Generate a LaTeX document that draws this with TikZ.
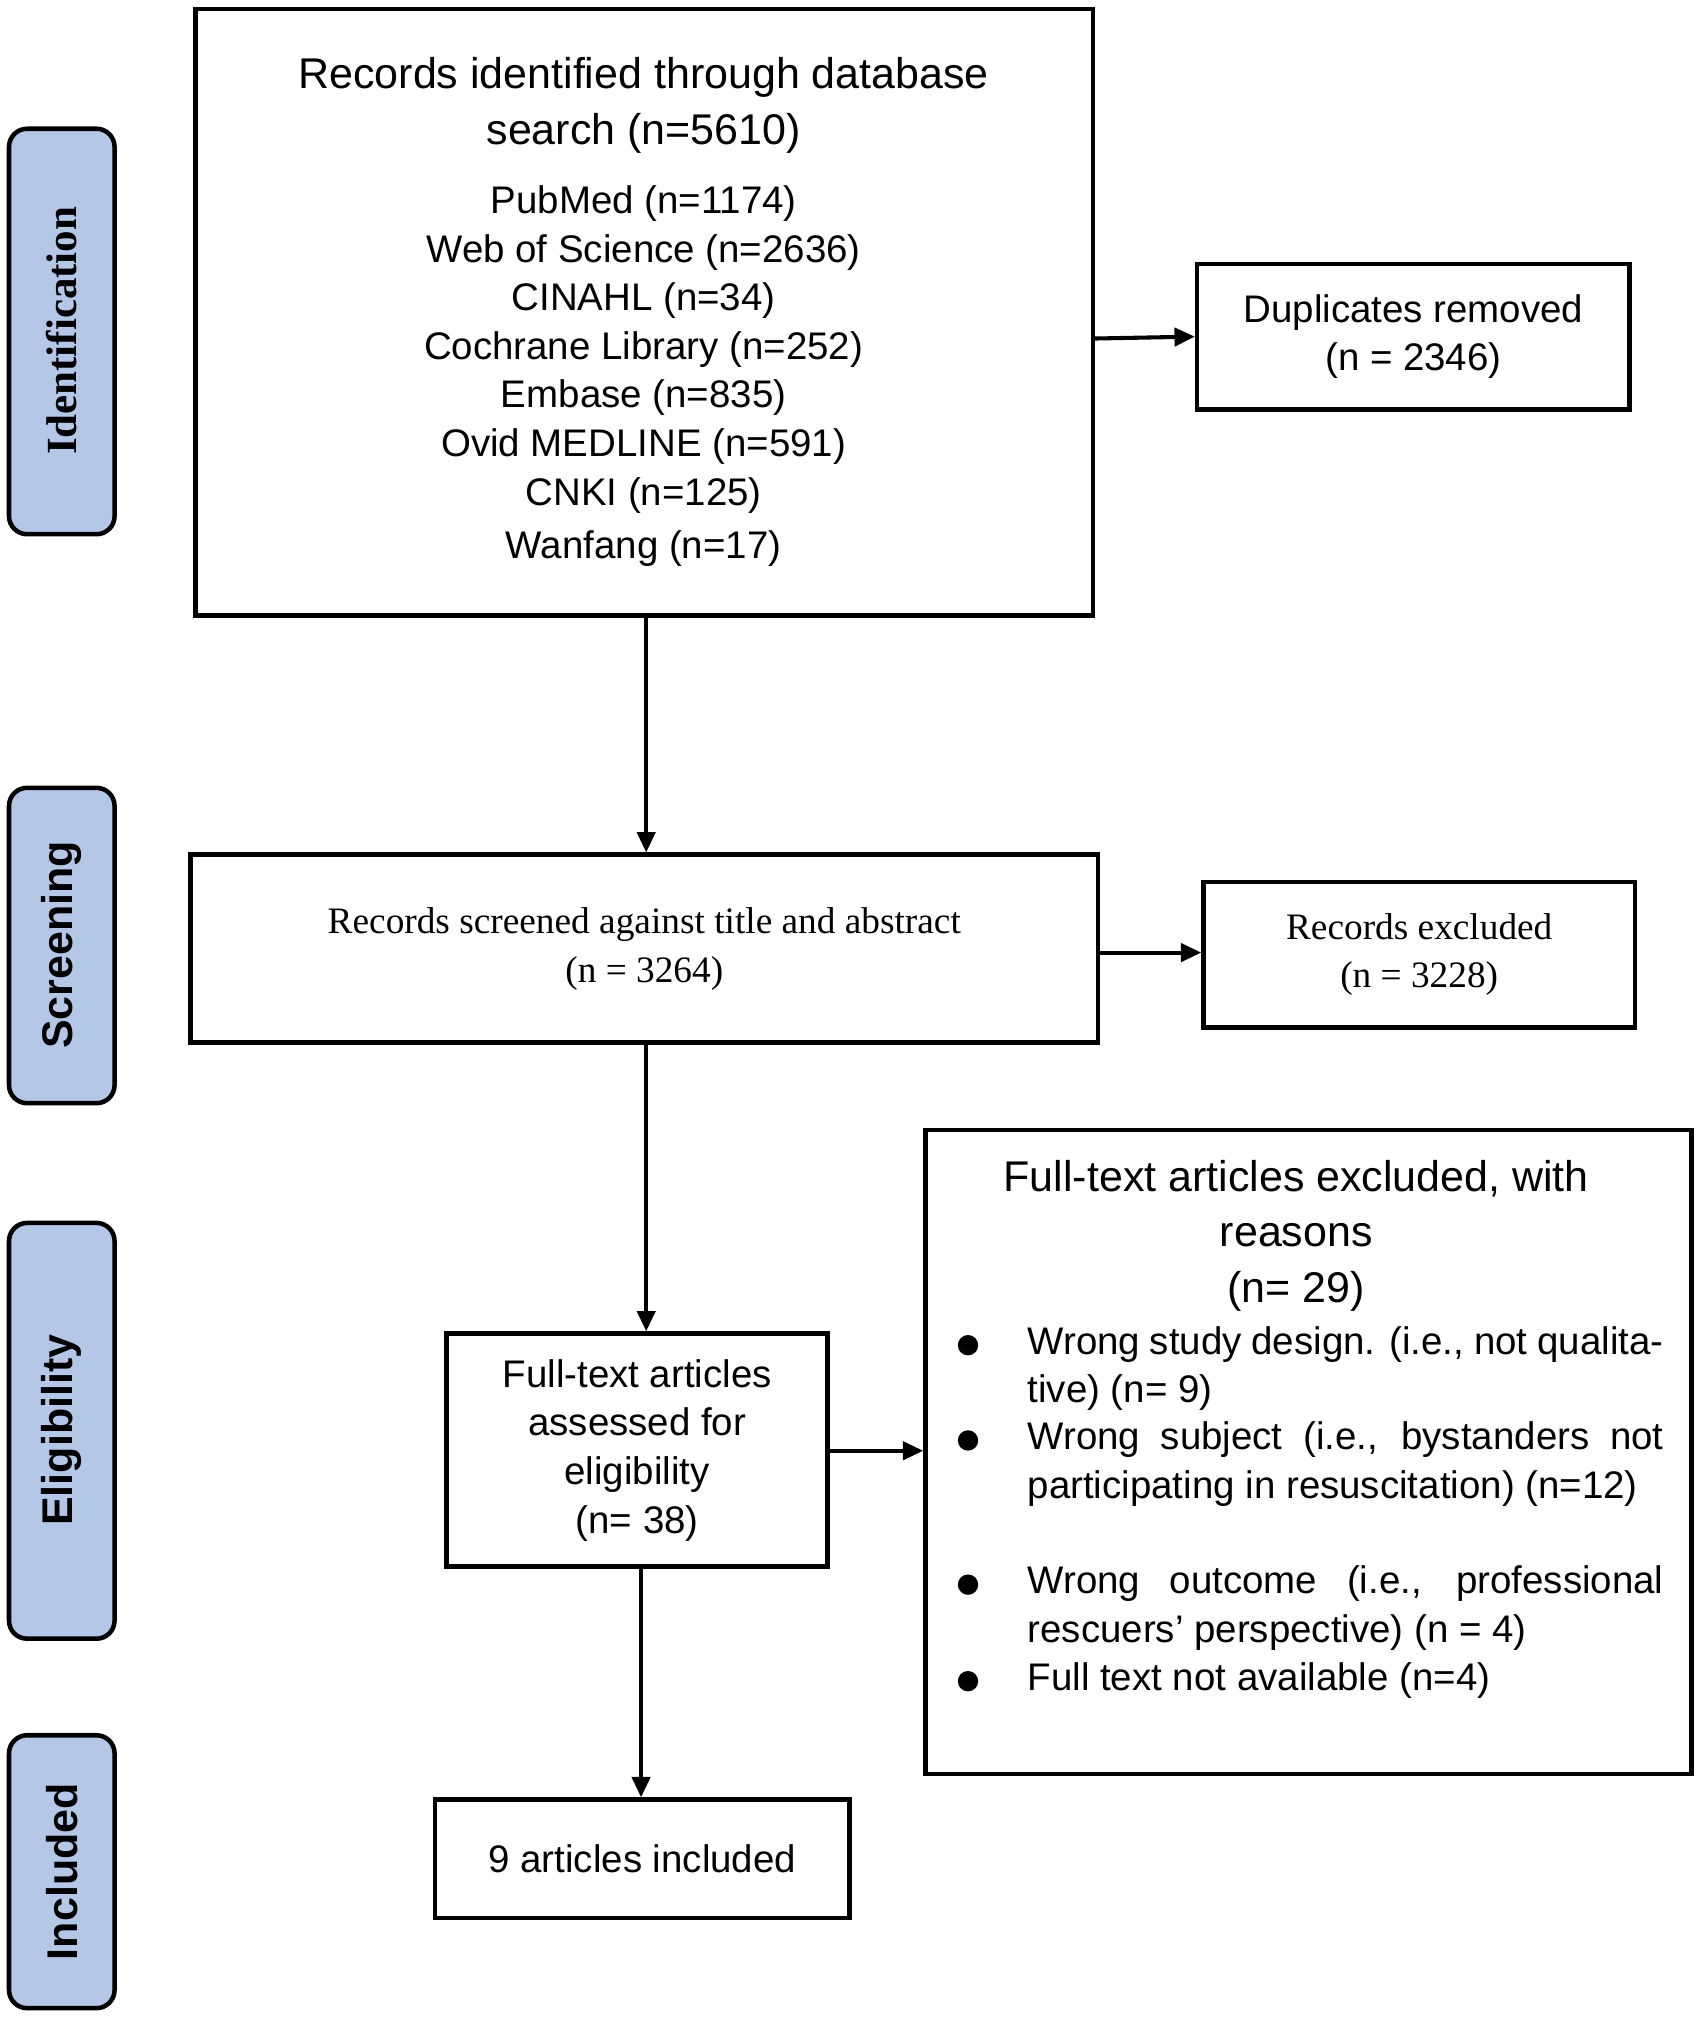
\documentclass[tikz,border=0pt]{standalone}
\usepackage{fontspec}
\setmainfont{Liberation Sans}
\newfontfamily\serif{Liberation Serif}
\usetikzlibrary{arrows.meta}
\begin{document}
\begin{tikzpicture}[x=0.02cm,y=-0.02cm,
 box/.style={draw,line width=2pt},
 side/.style={draw,line width=2pt,rounded corners=8pt,fill=blue!25!cyan!20!white,fill=sideblue},
 arr/.style={line width=1.8pt,-{Triangle[length=9pt,width=8pt]}},
 txt/.style={align=center,font=\fontsize{17}{21.5}\selectfont}]
\definecolor{sideblue}{RGB}{180,199,231}
\useasboundingbox (0,0) rectangle (1320,1570);
% side labels
\draw[side] (7,100) rectangle (89,415);
\node[rotate=90,font=\serif\bfseries\fontsize{19}{20}\selectfont] (lid) at (48,257) {Identification};
\draw[side] (7,612) rectangle (89,857);
\node[rotate=90,font=\bfseries\fontsize{19}{20}\selectfont] (lsc) at (48,734) {Screening};
\draw[side] (7,950) rectangle (89,1273);
\node[rotate=90,font=\bfseries\fontsize{19}{20}\selectfont] (lel) at (48,1111) {Eligibility};
\draw[side] (7,1348) rectangle (89,1560);
\node[rotate=90,font=\bfseries\fontsize{19}{20}\selectfont] (lin) at (48,1454) {Included};
% boxes
\draw[box] (152,7) rectangle (849,478);
\node[box,draw=none,minimum width=697*0.02cm,minimum height=471*0.02cm] (b1) at (500.5,242.5) {};
\node[txt,font=\fontsize{19}{24.5}\selectfont] (b1t) at (500,82) {Records identified through database\\search (n=5610)};
\node[txt] (b1l) at (500,292) {PubMed (n=1174)\\Web of Science (n=2636)\\CINAHL (n=34)\\Cochrane Library (n=252)\\Embase (n=835)\\Ovid MEDLINE (n=591)\\CNKI (n=125)\\[2pt]Wanfang (n=17)};
\node[box,txt,minimum width=336*0.02cm,minimum height=113*0.02cm] (dup) at (1098,261.5) {Duplicates removed\\(n = 2346)};
\node[box,txt,font=\serif\fontsize{16.5}{21.5}\selectfont,minimum width=705*0.02cm,minimum height=146*0.02cm] (scr) at (500.5,737) {Records screened against title and abstract\\(n = 3264)};
\node[box,txt,font=\serif\fontsize{16.5}{21.5}\selectfont,minimum width=335*0.02cm,minimum height=113*0.02cm] (exc) at (1102.5,741.5) {Records excluded\\(n = 3228)};
\node[box,txt,minimum width=296*0.02cm,minimum height=181*0.02cm] (ft) at (495,1126.5) {Full-text articles\\assessed for\\eligibility\\(n= 38)};
\node[box,minimum width=595*0.02cm,minimum height=500*0.02cm] (rs) at (1016.5,1128) {};
\node[txt,font=\fontsize{19}{24.5}\selectfont] (rst) at (1007,960) {Full-text articles excluded, with\\reasons\\(n= 29)};
\tikzset{item/.style={anchor=north west,text width=494*0.02cm,align=justify,inner sep=0pt,font=\fontsize{17}{21.5}\selectfont},
 bul/.style={circle,fill,inner sep=0pt,minimum size=9pt}}
\node[item] (i1) at (798,1030) {Wrong study design. (i.e., not qualitative) (n= 9)};
\node[item] (i2) at (798,1104) {Wrong subject (i.e., bystanders not participating in resuscitation) (n=12)};
\node[item] (i3) at (798,1216) {Wrong outcome (i.e., professional rescuers' perspective) (n = 4)};
\node[item] (i4) at (798,1291) {Full text not available (n=4)};
\node[bul] (d1) at (752,1045) {};
\node[bul] (d2) at (752,1119) {};
\node[bul] (d3) at (752,1231) {};
\node[bul] (d4) at (752,1306) {};
\node[box,txt,minimum width=322*0.02cm,minimum height=92*0.02cm] (inc) at (499,1444) {9 articles included};
% arrows
\draw[arr] (502,478) -- (scr.north-|502,0);
\draw[arr] (849,263) -- (dup.west);
\draw[arr] (scr.east|-0,740) -- (exc.west|-0,740);
\draw[arr] (scr.south-|502,0) -- (ft.north-|502,0);
\draw[arr] (ft.east|-0,1127) -- (rs.west|-0,1127);
\draw[arr] (ft.south-|498,0) -- (inc.north-|498,0);
\end{tikzpicture}
\end{document}
